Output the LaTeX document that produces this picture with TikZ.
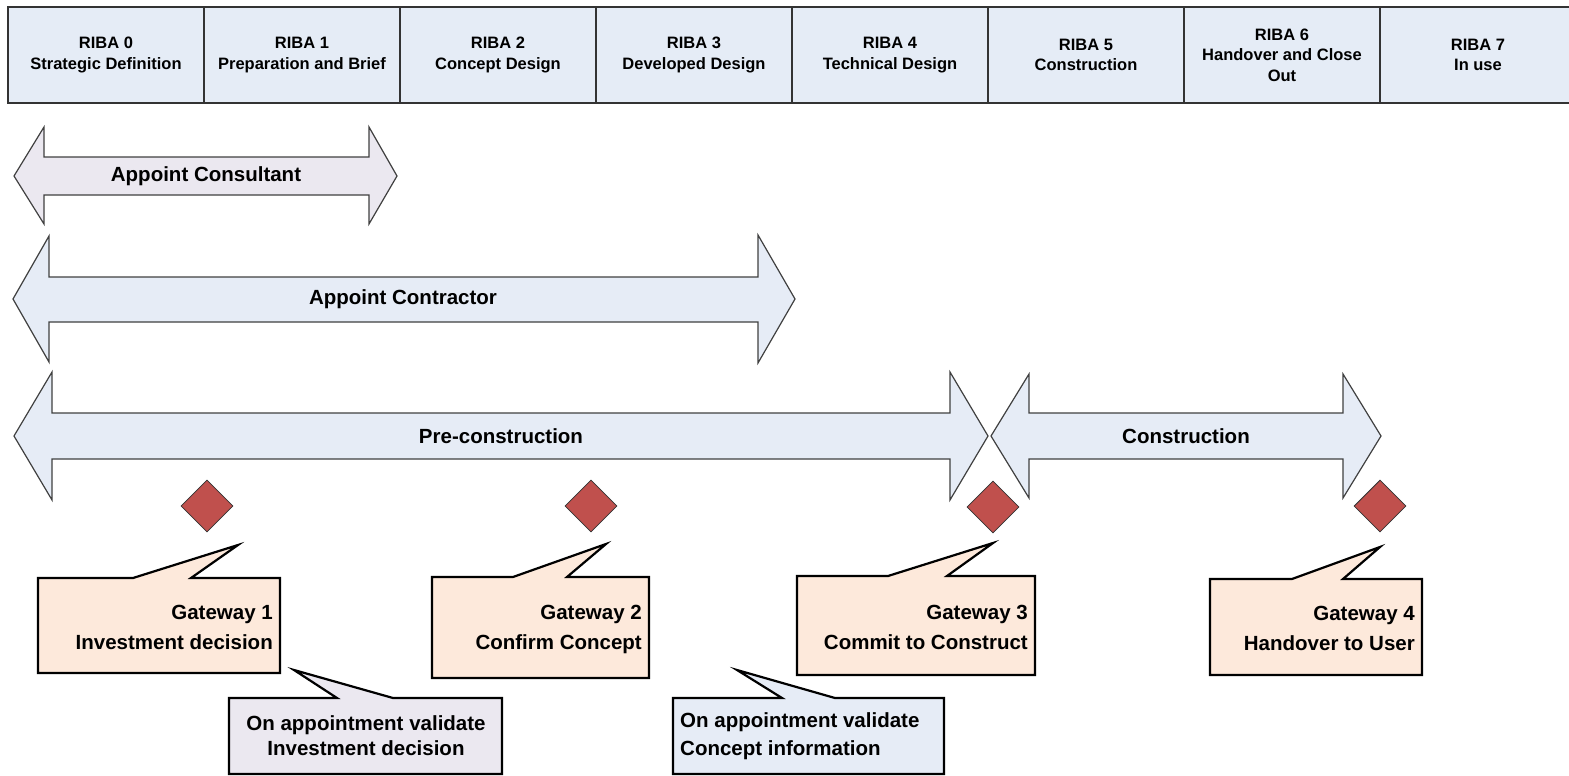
\documentclass[tikz,border=0pt]{standalone}
\usepackage{fontspec}
\setmainfont{Liberation Sans}
\usetikzlibrary{positioning,shapes.geometric}
\definecolor{headblue}{HTML}{E5ECF6}
\definecolor{arrowblue}{HTML}{E6ECF6}
\definecolor{lavender}{HTML}{EBE8F0}
\definecolor{peach}{HTML}{FDE9DB}
\definecolor{gatered}{HTML}{C0504D}
\begin{document}
\begin{tikzpicture}[x=1pt,y=-1pt]
\tikzset{stage/.style={draw=black!80, line width=1.5, fill=headblue, minimum width=196, minimum height=96, outer sep=0, inner sep=0, align=center, font=\fontsize{16.5}{20.5}\selectfont\bfseries},
  bigarrow/.style={draw=black!75, line width=1.2, fill=arrowblue},
  arrowtxt/.style={inner sep=0, font=\fontsize{20.5}{24}\selectfont\bfseries},
  gatemark/.style={diamond, draw=black!80, line width=0.8, fill=gatered, minimum size=52, inner sep=0},
  callbox/.style={draw=black, line width=2.2, line join=miter, fill=peach},
  calltxt/.style={inner sep=0, font=\fontsize{20.5}{30}\selectfont\bfseries}}
\useasboundingbox (0,0) rectangle (1569,776);
\clip (0,0) rectangle (1569,776);
\node[stage] (R0) at (106,55) {RIBA 0\\Strategic Definition};
\node[stage, right=0pt of R0] (R1) {RIBA 1\\Preparation and Brief};
\node[stage, right=0pt of R1] (R2) {RIBA 2\\Concept Design};
\node[stage, right=0pt of R2] (R3) {RIBA 3\\Developed Design};
\node[stage, right=0pt of R3] (R4) {RIBA 4\\Technical Design};
\node[stage, right=0pt of R4] (R5) {RIBA 5\\Construction};
\node[stage, right=0pt of R5] (R6) {RIBA 6\\Handover and Close\\Out};
\node[stage, right=0pt of R6] (R7) {RIBA 7\\In use};
\draw[bigarrow, fill=lavender] (14,176) -- (44,127) -- (44,157) -- (369,157) -- (369,127) -- (397,176) -- (369,224) -- (369,195) -- (44,195) -- (44,224) -- cycle;
\node[arrowtxt] (AC) at (206,176) {Appoint Consultant};
\draw[bigarrow] (13,299) -- (49,236) -- (49,277) -- (758,277) -- (758,235) -- (795,299) -- (758,363) -- (758,322) -- (49,322) -- (49,362) -- cycle;
\node[arrowtxt] (AK) at (403,299) {Appoint Contractor};
\draw[bigarrow] (14,436) -- (52,372) -- (52,413) -- (950,413) -- (950,372) -- (988,436) -- (950,500) -- (950,459) -- (52,459) -- (52,500) -- cycle;
\node[arrowtxt] (PC) at (501,436) {Pre-construction};
\draw[bigarrow] (991,436) -- (1029,374) -- (1029,413) -- (1343,413) -- (1343,374) -- (1381,436) -- (1343,498) -- (1343,459) -- (1029,459) -- (1029,498) -- cycle;
\node[arrowtxt] (CO) at (1186,436) {Construction};
\node[gatemark] (D1) at (207,506) {};
\node[gatemark] (D2) at (591,506) {};
\node[gatemark] (D3) at (993,507) {};
\node[gatemark] (D4) at (1380,506) {};
\draw[callbox] (38,578) -- (133,578) -- (238,545) -- (191,578) -- (280,578) -- (280,673) -- (38,673) -- cycle;
\node[calltxt, anchor=east, align=right] (G1) at (273,627) {Gateway 1\\Investment decision};
\draw[callbox] (432,577) -- (513,577) -- (606,544) -- (567,577) -- (649,577) -- (649,678) -- (432,678) -- cycle;
\node[calltxt, anchor=east, align=right] (G2) at (642,629) {Gateway 2\\Confirm Concept};
\draw[callbox] (797,576) -- (888,576) -- (993,543) -- (947,576) -- (1035,576) -- (1035,675) -- (797,675) -- cycle;
\node[calltxt, anchor=east, align=right] (G3) at (1028,627) {Gateway 3\\Commit to Construct};
\draw[callbox] (1210,579) -- (1292,579) -- (1380,547) -- (1343,579) -- (1422,579) -- (1422,675) -- (1210,675) -- cycle;
\node[calltxt, anchor=east, align=right] (G4) at (1415,628) {Gateway 4\\Handover to User};
\draw[callbox, fill=lavender] (229,698) -- (337,698) -- (294,670) -- (393,698) -- (502,698) -- (502,774) -- (229,774) -- cycle;
\node[calltxt, align=center, font=\fontsize{20.5}{25}\selectfont\bfseries] (O1) at (366,736) {On appointment validate\\Investment decision};
\draw[callbox, fill=arrowblue] (673,698) -- (782,698) -- (737,670) -- (835,698) -- (944,698) -- (944,774) -- (673,774) -- cycle;
\node[calltxt, anchor=west, align=left, font=\fontsize{20.5}{28}\selectfont\bfseries] (O2) at (680,736) {On appointment validate\\Concept information};
\end{tikzpicture}
\end{document}
